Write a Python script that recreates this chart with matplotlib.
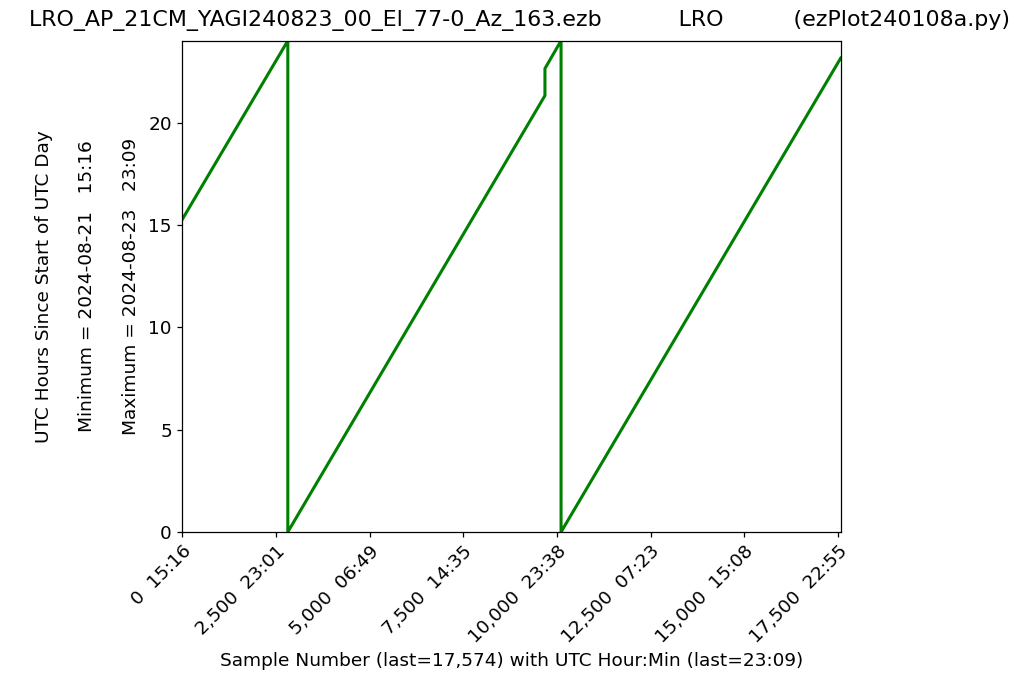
import matplotlib
matplotlib.use("Agg")
import matplotlib.pyplot as plt

# breakpoints of the UTC-hour trace (sample number, hours since start of UTC day)
SAMPLES = [0, 2817, 2817, 9680, 9680, 10110, 10110, 17574]
HOURS = [15.27, 24.0, 0.0, 21.32, 22.64, 24.0, 0.0, 23.15]

TICK_SAMPLES = [0, 2500, 5000, 7500, 10000, 12500, 15000, 17500]
TICK_TIMES = ["15:16", "23:01", "06:49", "14:35", "23:38", "07:23", "15:08", "22:55"]

LAST_SAMPLE = 17574
TITLE = "LRO_AP_21CM_YAGI240823_00_El_77-0_Az_163.ezb           LRO          (ezPlot240108a.py)"
YLABEL = ("UTC Hours Since Start of UTC Day\n\n"
          "Minimum = 2024-08-21   15:16\n\n"
          "Maximum = 2024-08-23   23:09")
XLABEL = "Sample Number (last=17,574) with UTC Hour:Min (last=23:09)"

FS = 13.3

fig = plt.figure(figsize=(10.24, 6.9), dpi=100)
ax = fig.add_axes([0.178, 0.229, 0.643, 0.712])

ax.plot(SAMPLES, HOURS, color="green", linewidth=2.2)

ax.set_xlim(0, LAST_SAMPLE)
ax.set_ylim(0, 24)

labels = [f"{s:,}  {t}" for s, t in zip(TICK_SAMPLES, TICK_TIMES)]
ax.set_xticks(TICK_SAMPLES)
ax.set_xticklabels(labels, rotation=45, ha="right", rotation_mode="anchor",
                   fontsize=FS)
ax.tick_params(axis="y", labelsize=FS)
ax.tick_params(length=3.9, width=0.9)
for sp in ax.spines.values():
    sp.set_linewidth(0.9)

ax.set_xlabel(XLABEL, fontsize=FS, labelpad=4)
ax.set_ylabel(YLABEL, fontsize=FS, linespacing=1.27, labelpad=6)
fig.text(0.507, 0.963, TITLE, ha="center", fontsize=15.9)

fig.savefig("out.png", dpi=100)
